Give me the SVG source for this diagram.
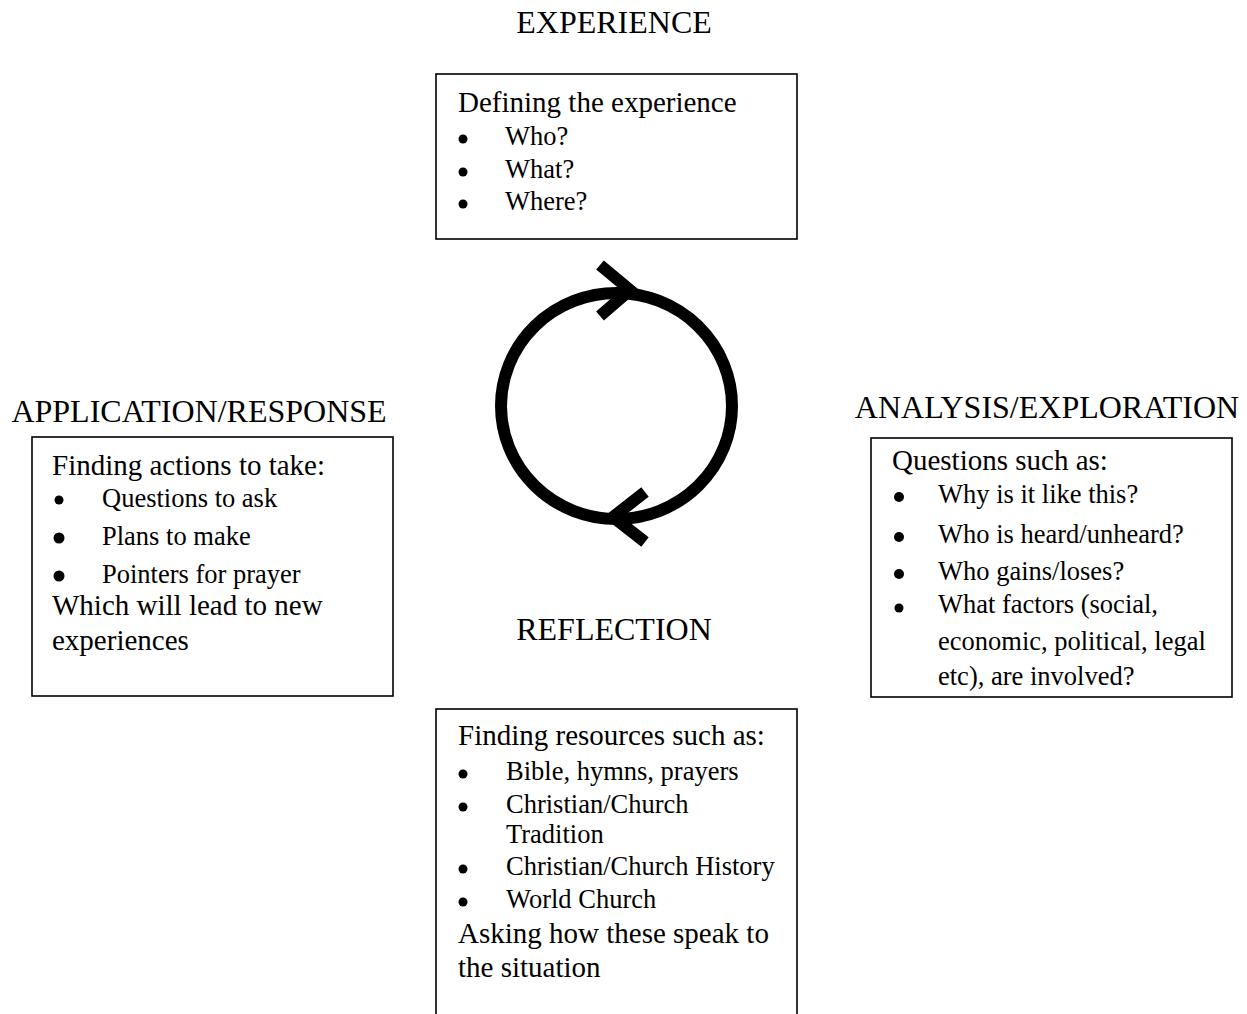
<svg xmlns="http://www.w3.org/2000/svg" width="1247" height="1014" viewBox="0 0 1247 1014">
  <style>
    text { font-family: "Liberation Serif", "Times New Roman", serif; fill: #000; }
    .head { font-size: 32px; }
    .lead { font-size: 29px; }
    .item { font-size: 26.5px; }
    .box { fill: #fff; stroke: #000; stroke-width: 1.6; }
    .dot { fill: #000; }
    .cycle { fill: none; stroke: #000; stroke-width: 12; }
  </style>
  <rect width="1247" height="1014" fill="#fff"/>

  <!-- central cycle with two direction chevrons -->
  <g id="connectors">
    <ellipse class="cycle" cx="616.5" cy="406" rx="115.5" ry="113"/>
    <path class="cycle" d="M600,265 L630,290 L600,316"/>
    <path class="cycle" d="M645,492 L613,517 L645,542"/>
  </g>

  <!-- Experience stage -->
  <g id="experience">
    <text class="head" x="614" y="33" text-anchor="middle">EXPERIENCE</text>
    <rect class="box" x="436" y="74" width="361" height="165"/>
    <text class="lead" x="458" y="112">Defining the experience</text>
    <circle class="dot" cx="463" cy="139" r="4.5"/>
    <text class="item" x="505" y="145">Who?</text>
    <circle class="dot" cx="463" cy="172" r="4.5"/>
    <text class="item" x="505" y="178">What?</text>
    <circle class="dot" cx="463" cy="204" r="4.5"/>
    <text class="item" x="505" y="210">Where?</text>
  </g>

  <!-- Application / response stage -->
  <g id="application">
    <text class="head" x="199" y="422" text-anchor="middle">APPLICATION/RESPONSE</text>
    <rect class="box" x="32" y="437" width="361" height="259"/>
    <text class="lead" x="52" y="475">Finding actions to take:</text>
    <circle class="dot" cx="59" cy="500" r="4.5"/>
    <text class="item" x="102" y="507">Questions to ask</text>
    <circle class="dot" cx="59" cy="538" r="5.5"/>
    <text class="item" x="102" y="545">Plans to make</text>
    <circle class="dot" cx="59" cy="576" r="5.5"/>
    <text class="item" x="102" y="583">Pointers for prayer</text>
    <text class="lead" x="52" y="615">Which will lead to new</text>
    <text class="lead" x="52" y="650">experiences</text>
  </g>

  <!-- Analysis / exploration stage -->
  <g id="analysis">
    <text class="head" x="1047" y="418" text-anchor="middle">ANALYSIS/EXPLORATION</text>
    <rect class="box" x="871" y="438" width="361" height="259"/>
    <text class="lead" x="892" y="470">Questions such as:</text>
    <circle class="dot" cx="899" cy="497" r="5"/>
    <text class="item" x="938" y="503">Why is it like this?</text>
    <circle class="dot" cx="899" cy="537" r="5"/>
    <text class="item" x="938" y="543">Who is heard/unheard?</text>
    <circle class="dot" cx="899" cy="574" r="5"/>
    <text class="item" x="938" y="580">Who gains/loses?</text>
    <circle class="dot" cx="899" cy="608" r="4.5"/>
    <text class="item" x="938" y="613">What factors (social,</text>
    <text class="item" x="938" y="650">economic, political, legal</text>
    <text class="item" x="938" y="685">etc), are involved?</text>
  </g>

  <!-- Reflection stage -->
  <g id="reflection">
    <text class="head" x="614" y="640" text-anchor="middle">REFLECTION</text>
    <rect class="box" x="436" y="709" width="361" height="320"/>
    <text class="lead" x="458" y="745">Finding resources such as:</text>
    <circle class="dot" cx="463" cy="774" r="4.5"/>
    <text class="item" x="506" y="780">Bible, hymns, prayers</text>
    <circle class="dot" cx="463" cy="807" r="4.5"/>
    <text class="item" x="506" y="813">Christian/Church</text>
    <text class="item" x="506" y="843">Tradition</text>
    <circle class="dot" cx="463" cy="869" r="4.5"/>
    <text class="item" x="506" y="875">Christian/Church History</text>
    <circle class="dot" cx="463" cy="902" r="4.5"/>
    <text class="item" x="506" y="908">World Church</text>
    <text class="lead" x="458" y="943">Asking how these speak to</text>
    <text class="lead" x="458" y="977">the situation</text>
  </g>
</svg>
